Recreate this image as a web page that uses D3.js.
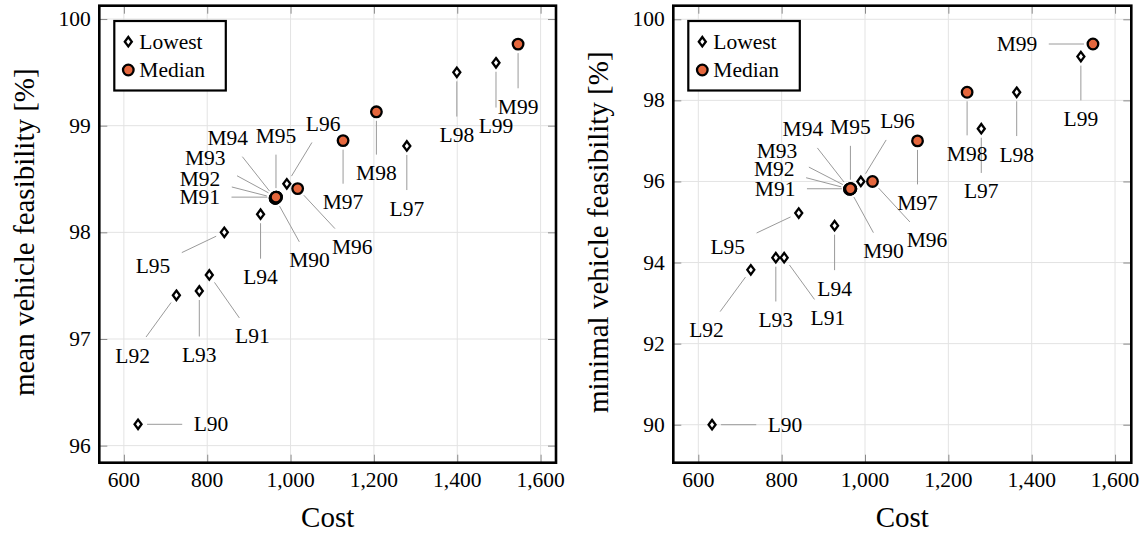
<!DOCTYPE html>
<html>
<head>
<meta charset="utf-8">
<script src="https://cdn.jsdelivr.net/npm/d3@7"></script>
<style>
  html, body { margin: 0; padding: 0; background: #fff; }
  svg { display: block; }
</style>
</head>
<body>
<svg id="chart" width="1144" height="533" font-family="'Liberation Serif', 'DejaVu Serif', serif"></svg>
<script>
// ---------------- data ----------------
const lowestLabels = ["L90","L91","L92","L93","L94","L95","L96","L97","L98","L99"];
const medianLabels = ["M90","M91","M92","M93","M94","M95","M96","M97","M98","M99"];

// Left panel: mean vehicle feasibility
const meanLowestCost = [634, 805, 726, 781, 928, 841, 991, 1279, 1399, 1493];
const meanLowestFeas = [96.20, 97.60, 97.41, 97.45, 98.17, 98.00, 98.455, 98.81, 99.50, 99.59];
const meanMedianCost = [963, 966, 964, 966, 963, 965, 1017, 1126, 1206, 1546];
const meanMedianFeas = [98.32, 98.33, 98.32, 98.33, 98.32, 98.33, 98.41, 98.86, 99.13, 99.765];

// Right panel: minimal vehicle feasibility
const minLowestCost = [633, 806, 726, 786, 927, 841, 990, 1279, 1364, 1518];
const minLowestFeas = [90.00, 94.12, 93.82, 94.12, 94.91, 95.22, 96.00, 97.30, 98.20, 99.08];
const minMedianCost = [963, 966, 964, 966, 963, 965, 1018, 1126, 1245, 1547];
const minMedianFeas = [95.81, 95.82, 95.81, 95.82, 95.81, 95.82, 96.00, 97.00, 98.20, 99.39];

const xTickValues = [600, 800, 1000, 1200, 1400, 1600];
const meanYTicks = [96, 97, 98, 99, 100];
const minYTicks = [90, 92, 94, 96, 98, 100];

const legendNames = ["Lowest", "Median"];
const xTitle = "Cost";
const meanYTitle = "mean vehicle feasibility [%]";
const minYTitle = "minimal vehicle feasibility [%]";

// ---------------- layout (pin placement: angle in degrees, distance to label centre) ----------------
const meanLowestPins = [[0,73],[-55,75],[-126,74.5],[-90,64],[-90,63],[-154.5,79],[58.7,70],[-90,62.6],[-90,62.7],[-90,63.3]];
const meanMedianPins = [[-61,71],[180,76.7],[165.6,78],[151.5,81],[128.3,76.5],[90,61],[-47,80],[-90,61.6],[-90,61.3],[-90,62.7]];
const minLowestPins  = [[0,73],[-54,74.5],[-126.3,74.8],[-90,62.3],[-90,63],[-154.7,78.5],[58.6,70.3],[-90,62.7],[-90,62.3],[-90,62.3]];
const minMedianPins  = [[-61.3,70.7],[180,75.7],[165.4,78.2],[152.7,83],[128,75.8],[90,61.4],[-47.3,80.3],[-90,62],[-90,61.6],[180,76]];

const ORANGE = "#E5673D";
const FS = 21.5;      // label font size
const TFS = 29;       // axis title font size

const svg = d3.select("#chart");

const panels = [
  { px:[99.3,556], py:[5.7,462.7], xd:[541,1637], yd:[95.84,100.125], yTicks: meanYTicks, yTitle: meanYTitle, titleX: 34,
    lc: meanLowestCost, lf: meanLowestFeas, mc: meanMedianCost, mf: meanMedianFeas, lp: meanLowestPins, mp: meanMedianPins },
  { px:[673.3,1131.3], py:[5.7,462.7], xd:[540,1639], yd:[89.063,100.335], yTicks: minYTicks, yTitle: minYTitle, titleX: 608,
    lc: minLowestCost, lf: minLowestFeas, mc: minMedianCost, mf: minMedianFeas, lp: minLowestPins, mp: minMedianPins }
];

function diamondPath(h, w) { return `M0,${-h}L${w},0L0,${h}L${-w},0Z`; }

function drawDiamond(g, x, y) {
  g.append("path").attr("d", diamondPath(4.7, 3.5)).attr("transform", `translate(${x},${y})`)
    .attr("fill", "#fff").attr("stroke", "#000").attr("stroke-width", 2.3).attr("stroke-linejoin", "miter");
}
function drawCircle(g, x, y) {
  g.append("circle").attr("cx", x).attr("cy", y).attr("r", 5.3)
    .attr("fill", ORANGE).attr("stroke", "#000").attr("stroke-width", 2.3);
}

panels.forEach(p => {
  const x = d3.scaleLinear().domain(p.xd).range(p.px);
  const y = d3.scaleLinear().domain(p.yd).range([p.py[1], p.py[0]]);
  const g = svg.append("g");

  // grid
  const grid = g.append("g");
  xTickValues.forEach(t => {
    grid.append("line").attr("x1", x(t)).attr("x2", x(t)).attr("y1", p.py[0]).attr("y2", p.py[1])
      .attr("stroke", "#e3e3e3").attr("stroke-width", 1);
  });
  p.yTicks.forEach(t => {
    grid.append("line").attr("y1", y(t)).attr("y2", y(t)).attr("x1", p.px[0]).attr("x2", p.px[1])
      .attr("stroke", "#e3e3e3").attr("stroke-width", 1);
  });

  // axes via d3 (inner ticks on all four sides)
  const tl = 8;
  const axB = d3.axisBottom(x).tickValues(xTickValues).tickSize(-tl).tickFormat("");
  const axT = d3.axisTop(x).tickValues(xTickValues).tickSize(-tl).tickFormat("");
  const axL = d3.axisLeft(y).tickValues(p.yTicks).tickSize(-tl).tickFormat("");
  const axR = d3.axisRight(y).tickValues(p.yTicks).tickSize(-tl).tickFormat("");
  [[axB, `translate(0,${p.py[1]})`], [axT, `translate(0,${p.py[0]})`],
   [axL, `translate(${p.px[0]},0)`], [axR, `translate(${p.px[1]},0)`]].forEach(([ax, tr]) => {
    const a = g.append("g").attr("transform", tr).call(ax);
    a.attr("font-family", null);
    a.select(".domain").remove();
    a.selectAll(".tick line").attr("stroke", "#8a8a8a").attr("stroke-width", 1);
  });

  // tick labels
  const fmt = d3.format(",");
  xTickValues.forEach(t => {
    g.append("text").attr("x", x(t)).attr("y", 487).attr("text-anchor", "middle")
      .attr("font-size", FS).text(fmt(t));
  });
  p.yTicks.forEach(t => {
    g.append("text").attr("x", p.px[0] - 8.5).attr("y", y(t) + 7).attr("text-anchor", "end")
      .attr("font-size", FS).text(fmt(t));
  });

  // axis titles
  g.append("text").attr("x", (p.px[0] + p.px[1]) / 2).attr("y", 527).attr("text-anchor", "middle")
    .attr("font-size", TFS).text(xTitle);
  g.append("text").attr("transform", `translate(${p.titleX},${(p.py[0] + p.py[1]) / 2 - 2}) rotate(-90)`)
    .attr("text-anchor", "middle").attr("font-size", TFS).text(p.yTitle);

  // pins
  const pinLines = g.append("g");
  const marks = g.append("g");
  const labelsG = g.append("g");

  function pin(px0, py0, label, ang, dist) {
    const a = ang * Math.PI / 180;
    const dx = Math.cos(a), dy = -Math.sin(a);
    const cx = px0 + dist * dx, cy = py0 + dist * dy;
    const t = labelsG.append("text").attr("x", cx).attr("y", cy + 7).attr("text-anchor", "middle")
      .attr("font-size", FS).text(label);
    const w = t.node().getComputedTextLength();
    const hw = w / 2 + 11.5, hh = 18.5;
    const s = Math.min(Math.abs(dx) > 1e-6 ? hw / Math.abs(dx) : Infinity,
                       Math.abs(dy) > 1e-6 ? hh / Math.abs(dy) : Infinity);
    const r0 = 9;
    pinLines.append("line")
      .attr("x1", px0 + r0 * dx).attr("y1", py0 + r0 * dy)
      .attr("x2", cx - s * dx).attr("y2", cy - s * dy)
      .attr("stroke", "#9a9a9a").attr("stroke-width", 1);
  }

  lowestLabels.forEach((lab, i) => pin(x(p.lc[i]), y(p.lf[i]), lab, p.lp[i][0], p.lp[i][1]));
  medianLabels.forEach((lab, i) => pin(x(p.mc[i]), y(p.mf[i]), lab, p.mp[i][0], p.mp[i][1]));

  p.lc.forEach((c, i) => drawDiamond(marks, x(c), y(p.lf[i])));
  p.mc.forEach((c, i) => drawCircle(marks, x(c), y(p.mf[i])));

  // legend
  const lx = p.px[0] + 15, ly = p.py[0] + 15.3;
  const lg = g.append("g");
  lg.append("rect").attr("x", lx).attr("y", ly).attr("width", 111.5).attr("height", 69.5)
    .attr("fill", "#fff").attr("stroke", "#000").attr("stroke-width", 2.2);
  drawDiamond(lg, lx + 14, ly + 20.7);
  drawCircle(lg, lx + 14, ly + 49);
  lg.append("text").attr("x", lx + 25).attr("y", ly + 20.7 + 7).attr("font-size", FS).text(legendNames[0]);
  lg.append("text").attr("x", lx + 25).attr("y", ly + 49 + 7).attr("font-size", FS).text(legendNames[1]);

  // frame
  g.append("rect").attr("x", p.px[0]).attr("y", p.py[0]).attr("width", p.px[1] - p.px[0])
    .attr("height", p.py[1] - p.py[0]).attr("fill", "none").attr("stroke", "#000").attr("stroke-width", 2.6);
});
</script>
</body>
</html>
